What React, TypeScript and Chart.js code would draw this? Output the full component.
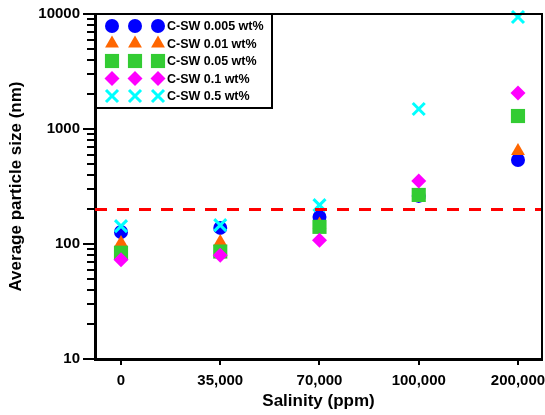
import React, { useEffect, useRef } from 'react';
import { Chart, registerables } from 'chart.js';
import { drawPoint } from 'chart.js/helpers';

Chart.register(...registerables);

// ---- data ----
const xLabels = ['0', '35,000', '70,000', '100,000', '200,000'];
const xPositions = [0, 1, 2, 3, 4];
const yTickValues = [10, 100, 1000, 10000];
const referenceLevel = 200;

const sw0005 = [127, 138, 172, 262, 537];
const sw001 = [102, 104, 148, 268, 644];
const sw005 = [84, 86, 141, 267, 1297];
const sw01 = [73, 80, 108, 353, 2056];
const sw05 = [143, 146, 218, 1493, 9420];

const seriesNames = ['C-SW 0.005 wt%', 'C-SW 0.01 wt%', 'C-SW 0.05 wt%', 'C-SW 0.1 wt%', 'C-SW 0.5 wt%'];
const seriesValues = [sw0005, sw001, sw005, sw01, sw05];

const X_MIN = -0.262;
const X_MAX = 4.242;

const styles = [
  { pointStyle: 'circle', radius: 7, color: '#0000FF', borderWidth: 0 },
  { pointStyle: 'triangle', radius: 8, color: '#FF6600', borderWidth: 0 },
  { pointStyle: 'rect', radius: 10, color: '#33CC33', borderWidth: 0 },
  { pointStyle: 'rectRot', radius: 7.5, color: '#FF00FF', borderWidth: 0 },
  { pointStyle: 'crossRot', radius: 8.5, color: '#00FFFF', borderWidth: 3 },
];

const FONT = "'Liberation Sans', Arial, sans-serif";

const framePlugin = {
  id: 'frameAndMinor',
  afterDraw(chart: any) {
    const { ctx, chartArea } = chart;
    const y = chart.scales.y;
    ctx.save();
    // minor ticks on log axis
    ctx.strokeStyle = '#000';
    ctx.lineWidth = 2;
    for (const d of [10, 100, 1000]) {
      for (let m = 2; m <= 9; m++) {
        const py = Math.round(y.getPixelForValue(m * d));
        ctx.beginPath();
        ctx.moveTo(chartArea.left - 8, py);
        ctx.lineTo(chartArea.left, py);
        ctx.stroke();
      }
    }
    // top and right frame
    ctx.lineWidth = 2;
    ctx.beginPath();
    ctx.moveTo(chartArea.left, chartArea.top);
    ctx.lineTo(chartArea.right, chartArea.top);
    ctx.lineTo(chartArea.right, chartArea.bottom);
    ctx.stroke();

    // legend box
    const lx = chartArea.left + 1;
    const ly = chartArea.top;
    const lw = 176;
    const lh = 94;
    ctx.fillStyle = '#fff';
    ctx.fillRect(lx, ly, lw, lh);
    ctx.lineWidth = 2;
    ctx.strokeStyle = '#000';
    ctx.strokeRect(lx, ly, lw, lh);
    ctx.font = `bold 12.5px ${FONT}`;
    ctx.textBaseline = 'middle';
    ctx.textAlign = 'left';
    seriesNames.forEach((name, i) => {
      const st = styles[i];
      const ry = ly + 12 + i * 17.5;
      for (const ox of [16, 39, 62]) {
        ctx.fillStyle = st.color;
        ctx.strokeStyle = st.color;
        ctx.lineWidth = st.borderWidth;
        drawPoint(ctx, {
          pointStyle: st.pointStyle,
          radius: st.radius,
          rotation: 0,
          borderWidth: st.borderWidth,
        } as any, lx + ox, ry);
      }
      ctx.fillStyle = '#000';
      ctx.fillText(name, lx + 71, ry + 1);
    });
    ctx.restore();
  },
};

export default function App() {
  const ref = useRef<HTMLCanvasElement>(null);
  useEffect(() => {
    if (!ref.current) return;
    const datasets: any[] = seriesValues.map((vals, i) => ({
      label: seriesNames[i],
      data: vals.map((v, j) => ({ x: xPositions[j], y: v })),
      pointStyle: styles[i].pointStyle,
      pointRadius: styles[i].radius,
      pointBackgroundColor: styles[i].color,
      pointBorderColor: styles[i].color,
      pointBorderWidth: styles[i].borderWidth,
      showLine: false,
      clip: false,
      order: 10 - i,
    }));
    datasets.push({
      label: 'reference',
      data: [
        { x: X_MIN, y: referenceLevel },
        { x: X_MAX, y: referenceLevel },
      ],
      showLine: true,
      borderColor: '#FF0000',
      borderWidth: 3,
      borderDash: [12, 10],
      pointRadius: 0,
      clip: false,
      order: 0,
    });
    const chart = new Chart(ref.current, {
      type: 'scatter',
      data: { datasets },
      options: {
        animation: false,
        responsive: false,
        devicePixelRatio: 1,
        layout: { autoPadding: false, padding: { top: 14, right: 3, left: 0, bottom: 0 } },
        plugins: { legend: { display: false }, tooltip: { enabled: false } },
        scales: {
          x: {
            type: 'linear',
            position: 'bottom',
            min: X_MIN,
            max: X_MAX,
            afterBuildTicks: (s: any) => {
              s.ticks = xPositions.map((v) => ({ value: v }));
            },
            afterFit: (s: any) => {
              s.height = 56;
              s.paddingLeft = 0;
              s.paddingRight = 0;
            },
            ticks: {
              callback: (v: any) => xLabels[v] ?? '',
              font: { family: FONT, size: 15, weight: 'bold' },
              color: '#000',
              padding: 7,
              autoSkip: false,
              maxRotation: 0,
            },
            grid: { drawOnChartArea: false, drawTicks: true, tickLength: 6, lineWidth: 2, color: '#000' },
            border: { display: true, width: 3, color: '#000' },
            title: {
              display: true,
              text: 'Salinity (ppm)',
              font: { family: FONT, size: 17, weight: 'bold' },
              color: '#000',
              padding: { top: 0, bottom: 3 },
            },
          },
          y: {
            type: 'logarithmic',
            min: 10,
            max: 10000,
            afterBuildTicks: (s: any) => {
              s.ticks = yTickValues.map((v) => ({ value: v, major: true }));
            },
            afterFit: (s: any) => {
              s.width = 95;
              s.paddingTop = 0;
              s.paddingBottom = 0;
            },
            ticks: {
              callback: (v: any) => String(v),
              font: { family: FONT, size: 15, weight: 'bold' },
              color: '#000',
              padding: 3,
              autoSkip: false,
            },
            grid: { drawOnChartArea: false, drawTicks: true, tickLength: 12, lineWidth: 2, color: '#000' },
            border: { display: true, width: 3, color: '#000' },
            title: {
              display: true,
              text: 'Average particle size (nm)',
              font: { family: FONT, size: 17, weight: 'bold' },
              color: '#000',
              padding: { top: 6, bottom: 0 },
            },
          },
        },
      },
      plugins: [framePlugin],
    } as any);
    return () => chart.destroy();
  }, []);
  return (
    <div style={{ position: 'absolute', left: 0, top: 0, width: 545, height: 415, background: '#fff' }}>
      <canvas ref={ref} width={545} height={415} style={{ width: 545, height: 415, display: 'block' }} />
    </div>
  );
}
